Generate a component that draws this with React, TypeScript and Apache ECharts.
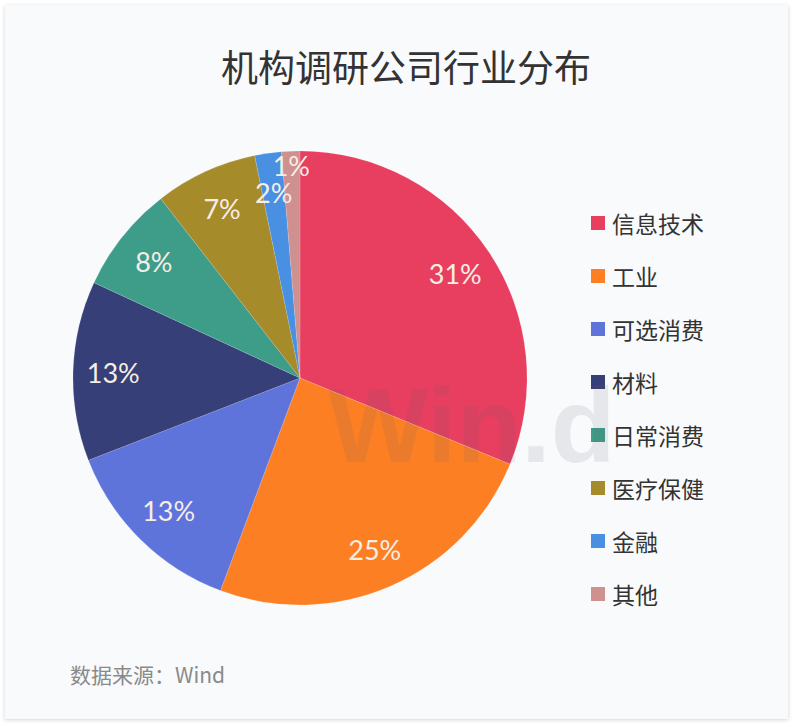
import React, { useEffect, useRef } from "react";
import * as echarts from "echarts";

const categories = ["信息技术", "工业", "可选消费", "材料", "日常消费", "医疗保健", "金融", "其他"];
const values = [31.2, 24.5, 13.4, 12.8, 7.6, 7.3, 1.9, 1.3];
const colors = ["#e83e5f", "#fd7f24", "#5f74db", "#363f77", "#3e9d89", "#a68b2a", "#4a90e2", "#cf9090"];
const titleText = "机构调研公司行业分布";
const sourceText = "数据来源：Wind";

export default function App() {
  const ref = useRef<HTMLDivElement>(null);
  useEffect(() => {
    if (!ref.current) return;
    const chart = echarts.init(ref.current, null, { renderer: "svg" });
    const R = 227;
    const center = [300, 378];
    const lastIdx = categories.length - 1;
    const labelStyle = {
      show: true,
      position: "inside",
      formatter: (p: any) => Math.round(p.percent) + "%",
      fontFamily: "Lato",
      fontSize: 27,
      color: "#f6eee6",
    };
    const labelSeries = (inner: number, showIdx: (i: number) => boolean, suffix: string) => ({
      type: "pie",
      center,
      radius: [inner, R],
      startAngle: 90,
      clockwise: true,
      silent: true,
      legendHoverLink: false,
      avoidLabelOverlap: false,
      minShowLabelAngle: 0,
      labelLayout: { hideOverlap: false },
      itemStyle: { color: "rgba(0,0,0,0)", borderWidth: 0 },
      label: labelStyle,
      labelLine: { show: false },
      data: categories.map((c, i) => ({
        name: c + suffix,
        value: values[i],
        label: { show: showIdx(i) },
      })),
    });
    chart.setOption({
      animation: false,
      backgroundColor: "transparent",
      title: {
        text: titleText,
        left: 401,
        top: 42,
        textAlign: "center",
        textStyle: {
          fontFamily: "Noto Sans CJK SC",
          fontSize: 37,
          fontWeight: "normal",
          color: "#333333",
        },
      },
      legend: {
        orient: "vertical",
        left: 586,
        top: 206,
        icon: "rect",
        itemWidth: 14,
        itemHeight: 14,
        itemGap: 29,
        itemStyle: { borderWidth: 0 },
        data: categories,
        textStyle: {
          fontFamily: "Noto Sans CJK SC",
          fontSize: 23,
          lineHeight: 24,
          color: "#333333",
          padding: [0, 0, 0, 2],
        },
      },
      graphic: [
        {
          type: "text",
          left: 70,
          top: 663,
          style: {
            text: sourceText,
            fontFamily: "Noto Sans CJK SC",
            fontSize: 21,
            fill: "#8a8a8a",
          },
        },
        {
          type: "text",
          left: 328,
          top: 372,
          z: 100,
          silent: true,
          style: {
            text: "Win.d",
            fontFamily: "Liberation Sans",
            fontWeight: "bold",
            fontSize: 106,
            fill: "rgba(100,100,110,0.12)",
          },
        },
      ],
      series: [
        {
          type: "pie",
          center,
          radius: [0, R],
          startAngle: 90,
          clockwise: true,
          label: { show: false },
          labelLine: { show: false },
          itemStyle: { borderColor: "rgba(255,255,255,0.25)", borderWidth: 0.5 },
          data: categories.map((c, i) => ({ name: c, value: values[i], itemStyle: { color: colors[i] } })),
        },
        labelSeries(R * 0.62, (i) => i !== lastIdx, "#"),
        labelSeries(R * 0.85, (i) => i === lastIdx, "##"),
      ],
    });
    return () => chart.dispose();
  }, []);
  return (
    <div style={{ position: "fixed", left: 0, top: 0, width: 796, height: 728, background: "#ffffff" }}>
      <div
        style={{
          position: "absolute",
          left: 5,
          top: 5,
          width: 783,
          height: 714,
          background: "#f9fafc",
          boxShadow: "0 1px 4px rgba(0,0,0,0.18)",
        }}
      />
      <div ref={ref} style={{ position: "absolute", left: 0, top: 0, width: 796, height: 728 }} />
    </div>
  );
}
